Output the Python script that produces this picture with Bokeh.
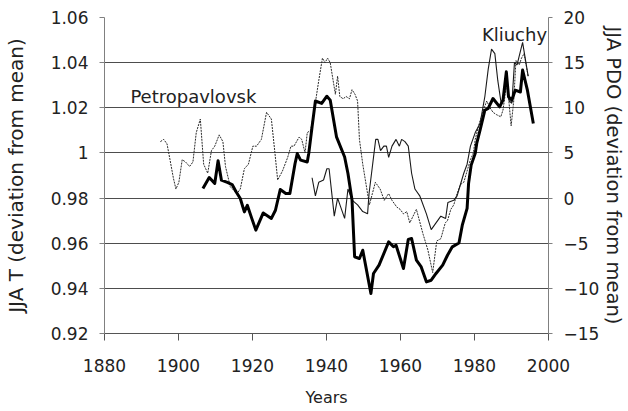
from bokeh.plotting import figure
from bokeh.models import Range1d, LinearAxis, FixedTicker, NumeralTickFormatter, Label
from bokeh.embed import file_html
from bokeh.resources import INLINE

# ---- data ----
x_ticks = [1880, 1900, 1920, 1940, 1960, 1980, 2000]
t_ticks = [0.92, 0.94, 0.96, 0.98, 1.0, 1.02, 1.04, 1.06]
pdo_ticks = [-15, -10, -5, 0, 5, 10, 15, 20]

# thick line: JJA PDO (right axis)
pdo_years = [1906.6, 1908.3, 1909.8, 1910.7, 1911.6, 1913.2, 1914.5, 1915.6, 1916.7, 1917.8,
             1918.6, 1919.8, 1920.9, 1922.9, 1925.1, 1926.2, 1927.5, 1929.0, 1930.1, 1931.5,
             1932.1, 1933.0, 1934.8, 1935.2, 1936.1, 1937.0, 1938.7, 1940.1, 1941.0, 1942.7,
             1944.9, 1945.8, 1946.9, 1947.6, 1948.9, 1949.8, 1952.0, 1952.7, 1954.2, 1956.8,
             1958.1, 1958.8, 1960.8, 1962.1, 1963.0, 1964.3, 1965.6, 1967.0, 1968.3, 1969.6,
             1971.4, 1972.7, 1974.0, 1975.8, 1976.7, 1978.0, 1978.4, 1979.1, 1980.2, 1980.6,
             1981.5, 1982.8, 1983.7, 1985.0, 1986.8, 1987.7, 1988.6, 1989.2, 1990.1, 1991.0,
             1992.4, 1993.0, 1994.3, 1995.9]
pdo_values = [1.05, 2.28, 1.63, 4.13, 1.98, 1.73, 1.5, 0.68, -0.05, -1.53,
              -0.8, -2.25, -3.55, -1.65, -2.25, -1.35, 0.95, 0.5, 0.5, 3.83,
              4.93, 4.2, 4.0, 4.93, 7.88, 10.75, 10.48, 11.28, 10.85, 6.78,
              4.55, 2.73, -0.23, -6.5, -6.7, -5.78, -10.58, -8.35, -7.43, -4.85,
              -5.4, -5.23, -7.8, -4.58, -4.48, -6.88, -7.63, -9.28, -9.1, -8.35,
              -7.43, -6.33, -5.4, -4.98, -3.0, -1.15, 1.63, 3.65, 4.95, 6.05,
              7.53, 9.73, 9.93, 11.03, 10.1, 10.85, 13.98, 11.2, 10.85, 11.95,
              11.75, 14.18, 11.95, 8.25]

# thin solid line: Kliuchy JJA T (left axis)
kl_years = [1936.1, 1937.0, 1937.9, 1939.2, 1940.1, 1940.7, 1942.1, 1943.0, 1944.9, 1945.8,
            1947.0, 1948.4, 1949.8, 1951.1, 1951.5, 1952.4, 1953.3, 1953.9, 1954.6, 1955.5,
            1956.2, 1956.8, 1957.7, 1958.8, 1959.7, 1960.3, 1961.2, 1962.1, 1963.0, 1963.9,
            1965.2, 1967.0, 1968.3, 1969.6, 1970.9, 1972.2, 1972.8, 1974.4, 1975.3, 1976.2,
            1977.1, 1978.0, 1978.9, 1980.2, 1981.5, 1982.8, 1983.7, 1984.6, 1985.5, 1986.3,
            1987.2, 1988.1, 1988.8, 1989.4, 1990.1, 1990.8, 1991.5, 1992.1, 1993.0, 1993.6,
            1994.5]
kl_values = [0.989, 0.981, 0.987, 0.988, 0.993, 0.993, 0.972, 0.980, 0.971, 0.984,
             0.979, 0.977, 0.974, 0.973, 0.982, 0.994, 1.006, 1.006, 1.001, 1.003,
             1.003, 0.998, 1.003, 1.006, 1.003, 1.006, 1.005, 1.003, 0.991, 0.984,
             0.981, 0.973, 0.966, 0.969, 0.972, 0.971, 0.978, 0.979, 0.981, 0.986,
             0.991, 0.995, 1.003, 1.009, 1.013, 1.025, 1.037, 1.046, 1.044, 1.032,
             1.022, 1.026, 1.032, 1.023, 1.022, 1.040, 1.039, 1.043, 1.049, 1.043,
             1.034]

# thin dashed line: Petropavlovsk JJA T (left axis)
pe_years = [1895.1, 1896.0, 1896.9, 1897.7, 1898.6, 1899.3, 1900.1, 1901.0, 1901.9, 1903.0,
            1903.9, 1904.8, 1905.9, 1906.8, 1907.9, 1908.9, 1909.8, 1911.0, 1912.0, 1912.7,
            1914.0, 1915.8, 1916.7, 1917.8, 1918.9, 1920.1, 1921.1, 1922.4, 1923.8, 1925.1,
            1926.0, 1926.8, 1928.1, 1929.5, 1930.4, 1931.2, 1932.6, 1933.3, 1934.2, 1934.8,
            1935.7, 1936.5, 1937.9, 1938.9, 1939.6, 1940.3, 1941.0, 1941.8, 1942.4, 1943.0,
            1943.6, 1944.5, 1945.3, 1946.2, 1946.9, 1947.7, 1948.4, 1948.9, 1949.8, 1950.6,
            1951.6, 1952.4, 1953.2, 1954.5, 1955.6, 1956.8, 1957.7, 1959.0, 1959.9, 1960.8,
            1961.7, 1962.5, 1963.4, 1964.3, 1966.1, 1967.4, 1968.7, 1969.8, 1970.9, 1972.1,
            1972.7, 1973.6, 1974.4, 1975.3, 1976.2, 1977.1, 1978.0, 1978.9, 1979.7, 1980.2,
            1981.1, 1982.4, 1983.3, 1984.2, 1985.0, 1985.9, 1987.1, 1987.7, 1988.3, 1988.8,
            1989.9, 1990.6, 1991.2, 1992.1, 1992.7, 1993.4, 1994.5]
pe_values = [1.005, 1.006, 1.004, 0.997, 0.989, 0.984, 0.987, 0.997, 0.996, 0.994,
             0.996, 1.009, 1.015, 0.995, 0.991, 1.001, 1.003, 1.008, 1.005, 0.994,
             0.985, 0.982, 0.984, 0.993, 0.995, 1.003, 1.003, 1.006, 1.018, 1.015,
             1.001, 0.988, 0.992, 0.998, 1.003, 1.003, 1.007, 1.006, 1.000, 1.009,
             1.010, 1.017, 1.032, 1.042, 1.040, 1.042, 1.040, 1.032, 1.026, 1.034,
             1.025, 1.024, 1.025, 1.024, 1.028, 1.026, 1.023, 1.006, 0.995, 0.987,
             0.977, 0.982, 0.987, 0.984, 0.979, 0.982, 0.979, 0.976, 0.975, 0.973,
             0.974, 0.969, 0.972, 0.975, 0.964, 0.957, 0.947, 0.961, 0.962, 0.969,
             0.970, 0.975, 0.977, 0.982, 0.986, 0.987, 0.992, 0.997, 1.000, 1.006,
             1.012, 1.019, 1.023, 1.020, 1.018, 1.017, 1.016, 1.019, 1.026, 1.032,
             1.012, 1.023, 1.041, 1.039, 1.042, 1.044, 1.034]

FONT = "DejaVu Sans"
TXT = "#222222"

p = figure(width=628, height=411, output_backend="svg", toolbar_location=None,
           x_range=Range1d(1880, 2000), y_range=Range1d(0.92, 1.06),
           min_border_left=101, min_border_right=73, min_border_top=17, min_border_bottom=78)
p.extra_y_ranges = {"pdo": Range1d(-15, 20)}
p.outline_line_color = None
p.background_fill_color = "white"
p.border_fill_color = "white"

# grid
p.xgrid.visible = False
p.ygrid.ticker = FixedTicker(ticks=t_ticks)
p.ygrid.grid_line_color = "#4d4d4d"
p.ygrid.grid_line_width = 1

# bottom axis
xa = p.xaxis[0]
xa.ticker = FixedTicker(ticks=x_ticks)
xa.axis_label = "Years"
xa.axis_line_color = "#555555"
xa.major_tick_line_color = "#555555"
xa.major_tick_out = 7
xa.major_tick_in = 0
xa.minor_tick_line_color = None
xa.major_label_standoff = 18
xa.axis_label_standoff = 13
xa.major_label_text_font = FONT
xa.major_label_text_font_size = "17px"
xa.major_label_text_color = TXT
xa.axis_label_text_font = FONT
xa.axis_label_text_font_size = "16px"
xa.axis_label_text_font_style = "normal"
xa.axis_label_text_color = TXT

# left axis
ya = p.yaxis[0]
ya.ticker = FixedTicker(ticks=t_ticks)
ya.formatter = NumeralTickFormatter(format="0.[00]")
ya.axis_label = "JJA T (deviation from mean)"
ya.axis_line_color = "#808080"
ya.major_tick_line_color = "#808080"
ya.major_tick_out = 5
ya.major_tick_in = 0
ya.minor_tick_line_color = None
ya.major_label_standoff = 11
ya.axis_label_standoff = 20
ya.major_label_text_font = FONT
ya.major_label_text_font_size = "17px"
ya.major_label_text_color = TXT
ya.axis_label_text_font = FONT
ya.axis_label_text_font_size = "20px"
ya.axis_label_text_font_style = "normal"
ya.axis_label_text_color = TXT

# right axis
ra = LinearAxis(y_range_name="pdo", ticker=FixedTicker(ticks=pdo_ticks),
                axis_label="JJA PDO (deviation from mean)")
ra.axis_line_color = "#808080"
ra.major_tick_line_color = "#808080"
ra.major_tick_out = 4
ra.major_tick_in = 0
ra.minor_tick_line_color = None
ra.major_label_standoff = 11
ra.axis_label_standoff = 0
ra.major_label_text_font = FONT
ra.major_label_text_font_size = "17px"
ra.major_label_text_color = TXT
ra.axis_label_text_font = FONT
ra.axis_label_text_font_size = "19.5px"
ra.axis_label_text_font_style = "normal"
ra.axis_label_text_color = TXT
p.add_layout(ra, "right")

# lines
p.line(pe_years, pe_values, line_color="#2a2a2a", line_width=1, line_dash="2 1")
p.line(kl_years, kl_values, line_color="#1a1a1a", line_width=1.1)
p.line(pdo_years, pdo_values, y_range_name="pdo", line_color="black", line_width=3,
       line_join="round")

# annotations
p.add_layout(Label(x=1887.0, y=1.0251, text="Petropavlovsk", text_font=FONT,
                   text_font_size="18px", text_color=TXT, text_baseline="middle",
                   text_align="left"))
p.add_layout(Label(x=1982.0, y=1.0526, text="Kliuchy", text_font=FONT,
                   text_font_size="18px", text_color=TXT, text_baseline="middle",
                   text_align="left"))

open("out.html", "w").write(file_html(p, INLINE))
